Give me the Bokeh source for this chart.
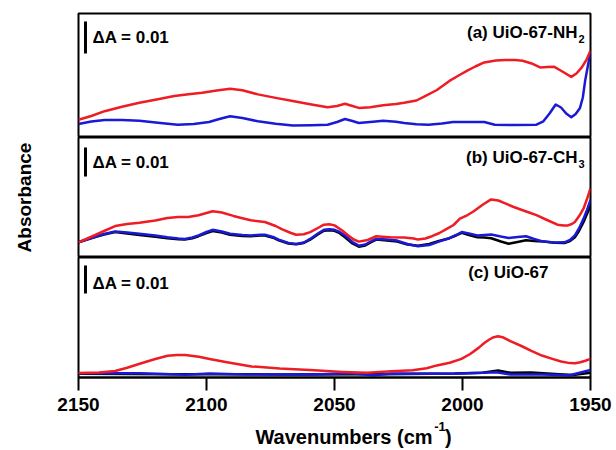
import math
from bokeh.plotting import figure
from bokeh.layouts import column
from bokeh.models import Range1d, Label, FixedTicker
from bokeh.embed import file_html
from bokeh.resources import INLINE

FONT = "Liberation Sans"
RED = "#ee1c24"
BLUE = "#1a1ad6"
BLACK = "#000000"

# ------------- data: wavenumber (cm-1) and absorbance in milli-absorbance (10^-3) -------------
x_ticks = [2150, 2100, 2050, 2000, 1950]
scale_bar_mabs = 10.0   # the "ΔA = 0.01" bar

# (a) UiO-67-NH2
a_red_wn = [2150, 2145, 2139.8, 2133, 2126.2, 2119, 2112.6, 2107, 2101.7, 2096, 2090.8, 2086, 2079.9, 2073,
            2066.3, 2059, 2052.7, 2049, 2045.9, 2043, 2040.5, 2036, 2031, 2026, 2022.8, 2018, 2014.6, 2010,
            2005.1, 2001.5, 1998.3, 1995, 1991.5, 1987, 1983.3, 1979.5, 1976.5, 1973, 1969.7, 1967, 1964.3,
            1961, 1957.5, 1955.5, 1953.4, 1951.5, 1950]
a_red_mabs = [5.56, 6.72, 8.22, 9.63, 10.84, 11.97, 12.94, 13.5, 14.0, 14.69, 15.25, 14.75, 13.47, 12.38,
              11.38, 10.31, 9.47, 9.84, 10.53, 9.84, 9.25, 9.44, 10.09, 10.47, 10.84, 11.56, 12.94, 14.84,
              17.69, 19.38, 20.84, 22.19, 23.47, 24.06, 24.22, 24.19, 24.0, 23.13, 21.91, 22.06, 22.13,
              20.63, 18.94, 20.0, 21.91, 24.38, 27.16]
a_blue_wn = [2150, 2145, 2139.8, 2133, 2126.2, 2118, 2111.2, 2105, 2099, 2095, 2090.8, 2086, 2079.9, 2073,
             2066.3, 2059, 2052.7, 2049, 2045.9, 2043, 2040.5, 2035, 2031, 2026, 2022.8, 2018, 2013.3, 2008,
             2003.7, 1997, 1991.5, 1987.4, 1980, 1971.1, 1968.4, 1966, 1963.6, 1961.5, 1959.5, 1957.5,
             1955.8, 1954.1, 1953, 1952.1, 1951, 1950]
a_blue_mabs = [4.22, 5.0, 5.47, 5.5, 5.25, 4.53, 4.0, 4.25, 4.84, 5.78, 6.63, 6.09, 5.06, 4.31,
               3.78, 3.84, 4.0, 4.84, 5.78, 5.16, 4.53, 4.94, 5.25, 4.94, 4.53, 4.13, 4.0, 4.38,
               4.84, 4.84, 4.84, 4.0, 3.91, 4.0, 5.06, 7.5, 10.31, 9.38, 7.5, 6.31,
               7.34, 9.25, 12.5, 17.69, 22.5, 26.63]

# (b) UiO-67-CH3
b_red_wn = [2150, 2147, 2143.9, 2140, 2135.7, 2131, 2126.2, 2120, 2115.3, 2111, 2107.1, 2103.1, 2100, 2097.6,
            2094, 2089.5, 2086, 2082.7, 2077.2, 2073, 2070.4, 2067, 2065, 2062, 2059.5, 2056.5, 2054.1, 2052,
            2050, 2047, 2044.6, 2042.5, 2040.5, 2037, 2033.7, 2030, 2028.2, 2022.8, 2019, 2017.4, 2014.5,
            2011.9, 2009, 2006.5, 2003.5, 2001, 1998, 1995.6, 1992, 1988.8, 1986, 1983.3, 1980, 1976.5, 1974,
            1971.1, 1967, 1962.9, 1960.5, 1958.8, 1957.3, 1956.1, 1954.3, 1952.7, 1951.3, 1950]
b_red_mabs = [5.24, 6.38, 7.59, 9.14, 10.83, 11.55, 12.0, 12.76, 13.65, 13.96, 14.0, 14.59, 15.34, 15.96,
              15.52, 14.34, 13.55, 12.83, 12.24, 10.86, 9.69, 8.45, 7.83, 8.0, 8.76, 10.17, 11.31, 11.45,
              11.07, 9.31, 7.59, 6.21, 5.48, 6.03, 7.34, 7.1, 7.0, 6.9, 6.55, 6.17, 6.55,
              7.34, 8.45, 9.69, 11.21, 13.41, 14.65, 15.96, 18.27, 20.03, 19.65, 18.65, 17.41, 16.31, 15.52,
              14.59, 12.93, 11.31, 11.03, 11.07, 11.55, 12.24, 14.48, 16.9, 20.34, 23.89]
b_wn = [2150, 2147, 2143.9, 2140, 2135.7, 2131, 2126.2, 2120, 2115.3, 2111, 2108.5, 2105.5, 2103.1, 2100,
        2097.6, 2094, 2090.8, 2086, 2082.7, 2079, 2077.2, 2074, 2071.8, 2068, 2065, 2062, 2059.5, 2056.5,
        2054.1, 2052, 2050, 2048, 2045.9, 2043, 2040.5, 2038, 2035.5, 2033.7, 2029.5, 2025.5, 2021.5,
        2017.4, 2013, 2009.2, 2005.1, 2002.5, 2000.3, 1997.5, 1994.2, 1991.5, 1988.8, 1985, 1982, 1978.5,
        1975.2, 1972, 1968.4, 1964, 1960.2, 1958, 1956.1, 1954.5, 1952.7, 1951.3, 1950]
b_blue_mabs = [5.24, 6.14, 7.0, 8.1, 8.96, 8.62, 8.17, 7.59, 7.0, 6.55, 6.41, 6.9, 7.59, 8.79,
               9.55, 8.96, 8.17, 7.76, 7.59, 7.86, 7.83, 7.07, 6.17, 5.0, 4.65, 5.17, 6.41, 8.28,
               9.55, 9.76, 9.55, 8.79, 7.59, 5.34, 4.07, 4.48, 5.69, 6.41, 6.21, 5.83, 4.65,
               3.86, 4.31, 5.48, 6.65, 7.76, 8.76, 8.28, 7.59, 7.76, 7.93, 7.24, 6.76, 7.07,
               7.34, 6.38, 5.48, 5.17, 5.24, 6.03, 7.59, 10.0, 13.41, 16.55, 19.83]
b_black_mabs = [5.24, 6.14, 7.0, 7.93, 8.76, 8.28, 7.76, 7.17, 6.65, 6.28, 6.17, 6.65, 7.34, 8.45,
                9.1, 8.62, 7.83, 7.45, 7.34, 7.59, 7.59, 6.83, 5.93, 4.83, 4.55, 5.0, 6.17, 7.93,
                9.21, 9.41, 9.21, 8.38, 7.0, 4.83, 3.72, 4.14, 5.34, 6.17, 5.86, 5.48, 4.48,
                4.07, 4.65, 5.72, 6.65, 7.59, 8.52, 7.76, 7.0, 6.9, 6.65, 5.52, 4.76, 5.34,
                5.93, 5.69, 5.48, 5.1, 5.0, 5.69, 7.0, 9.14, 12.24, 15.17, 18.07]

# (c) UiO-67
c_red_wn = [2150, 2142, 2135.7, 2131, 2126.1, 2120, 2115.2, 2111.5, 2108.3, 2103, 2098.8, 2092, 2082.4,
            2071.4, 2057.8, 2046.9, 2037.3, 2027.7, 2019.5, 2014, 2010, 2005, 2000.4, 1997, 1993.6, 1991.5,
            1989.5, 1987.8, 1986.1, 1984, 1981.3, 1977, 1973.1, 1969, 1964.9, 1961.5, 1958.1, 1956, 1954,
            1952, 1950]
c_red_mabs = [1.6, 1.8, 2.3, 3.5, 4.89, 6.6, 7.78, 8.07, 8.03, 7.43, 6.64, 5.46, 3.96,
              3.18, 2.57, 2.0, 1.68, 2.25, 2.57, 3.32, 4.32, 5.28, 6.64, 8.39, 10.67, 12.32,
              13.57, 14.39, 14.74, 14.28, 13.0, 11.25, 9.53, 7.85, 6.64, 5.71, 5.14, 5.1, 5.46,
              6.0, 6.64]
c_blue_wn = [2150, 2126.1, 2108.3, 2098.8, 2085.1, 2057.8, 2044.1, 2034.6, 2027.7, 2003.1, 1986.7, 1981.3,
             1969.0, 1958.1, 1950]
c_blue_mabs = [1.5, 1.5, 1.0, 1.4, 1.1, 1.1, 1.5, 0.8, 1.4, 1.3, 1.9, 1.1, 1.1, 0.8, 2.7]
c_black_wn = [2150, 2112.4, 2071.4, 2030.5, 2003.1, 1992.2, 1986.1, 1981.3, 1973.1, 1962.2, 1956.8, 1950]
c_black_mabs = [1.3, 1.2, 1.1, 1.2, 1.4, 1.7, 2.5, 1.7, 1.8, 1.2, 0.9, 1.7]
# ----------------------------------------------------------------------------------------------

X0, X1 = 2150, 1950
LEFT, FW, RIGHT = 78, 512, 26
x_range = Range1d(X0, X1)


def wn_at(px):
    return X0 - (px - LEFT) * (X0 - X1) / FW


def make_panel(span, fh, top, bottom, xaxis, yaxis=False):
    p = figure(frame_width=FW, frame_height=fh, min_border_left=LEFT, min_border_right=RIGHT,
               min_border_top=top, min_border_bottom=bottom, x_range=x_range,
               y_range=Range1d(0, span), output_backend="svg", toolbar_location=None,
               x_axis_location="below" if xaxis else None,
               y_axis_location="left" if yaxis else None)
    p.grid.visible = False
    p.outline_line_color = "black"
    p.outline_line_width = 2
    p.background_fill_color = "white"
    p.border_fill_color = "white"
    return p


def yk(p, fh, h):
    return h * p.y_range.end / fh


# panel spans: frame height (px) times the ΔA per px of each panel's scale bar
pa = make_panel(124 * 10 / 32, 124, 13, 0, xaxis=False)
pb = make_panel(120 * 10 / 29, 120, 0, 0, xaxis=False, yaxis=True)
pc = make_panel(120 * 10 / 28, 120, 0, 42, xaxis=True)

LW = 2.5
pa.line(a_blue_wn, a_blue_mabs, color=BLUE, line_width=LW, line_join="round")
pa.line(a_red_wn, a_red_mabs, color=RED, line_width=LW, line_join="round")

pb.line(b_wn, b_black_mabs, color=BLACK, line_width=LW, line_join="round")
pb.line(b_wn, b_blue_mabs, color=BLUE, line_width=LW, line_join="round")
pb.line(b_red_wn, b_red_mabs, color=RED, line_width=LW, line_join="round")

pc.line(c_black_wn, c_black_mabs, color=BLACK, line_width=LW, line_join="round")
pc.line(c_blue_wn, c_blue_mabs, color=BLUE, line_width=LW, line_join="round")
pc.line(c_red_wn, c_red_mabs, color=RED, line_width=LW, line_join="round")

# scale bars and panel labels
bar_x = wn_at(85)
txt_x = wn_at(92)
info = [
    (pa, 124, 84, 100, "(a) UiO-67-NH", "2", 577, 105),
    (pb, 120, 81, 95, "(b) UiO-67-CH", "3", 577, 100),
    (pc, 120, 84, 94, "(c) UiO-67", None, 548, 105),
]
for p, fh, bar_h, txt_h, name, sub, name_px, name_h in info:
    y0 = yk(p, fh, bar_h)
    p.segment(x0=[bar_x], y0=[y0], x1=[bar_x], y1=[y0 + scale_bar_mabs], color="black", line_width=3)
    p.add_layout(Label(x=txt_x, y=yk(p, fh, txt_h), text="\u0394A = 0.01", text_font=FONT,
                       text_font_style="bold", text_font_size="17px", text_baseline="middle",
                       text_align="left", text_color="black"))
    p.add_layout(Label(x=wn_at(name_px), y=yk(p, fh, name_h), text=name, text_font=FONT,
                       text_font_style="bold", text_font_size="17px", text_baseline="middle",
                       text_align="right", text_color="black"))
    if sub:
        p.add_layout(Label(x=wn_at(name_px + 1), y=yk(p, fh, name_h - 6), text=sub, text_font=FONT,
                           text_font_style="bold", text_font_size="11px", text_baseline="middle",
                           text_align="left", text_color="black"))

# y axis label (no ticks) on the middle panel
yax = pb.yaxis[0]
yax.ticker = FixedTicker(ticks=[])
yax.axis_line_color = None
yax.major_tick_line_color = None
yax.minor_tick_line_color = None
yax.axis_label = "Absorbance"
yax.axis_label_text_font = FONT
yax.axis_label_text_font_style = "bold"
yax.axis_label_text_font_size = "19px"
yax.axis_label_text_color = "black"
yax.axis_label_standoff = 44

# x axis
ax = pc.xaxis[0]
ax.ticker = FixedTicker(ticks=x_ticks)
ax.minor_tick_line_color = None
ax.major_tick_in = 0
ax.major_tick_out = 13
ax.major_tick_line_width = 2
ax.axis_line_width = 2
ax.major_label_standoff = 7
ax.major_label_text_font = FONT
ax.major_label_text_font_style = "bold"
ax.major_label_text_font_size = "19px"
ax.major_label_text_color = "black"

# x axis title strip (pixel coordinates, y downward)
LH = 450 - (13 + 124 + 120 + 120 + 42)
pl = figure(width=616, height=LH, min_border=0, x_range=Range1d(0, 616), y_range=Range1d(LH, 0),
            output_backend="svg", toolbar_location=None, x_axis_location=None, y_axis_location=None)
pl.grid.visible = False
pl.outline_line_color = None
xl_y = LH - 14
pl.add_layout(Label(x=426, y=xl_y, text="Wavenumbers (cm", text_font=FONT, text_font_style="bold",
                    text_font_size="20px", text_align="right", text_baseline="middle", text_color="black"))
pl.add_layout(Label(x=428, y=2, text="-1", text_font=FONT, text_font_style="bold",
                    text_font_size="13px", text_align="left", text_baseline="top", text_color="black"))
pl.add_layout(Label(x=441, y=xl_y, text=")", text_font=FONT, text_font_style="bold",
                    text_font_size="20px", text_align="left", text_baseline="middle", text_color="black"))

layout = column(pa, pb, pc, pl, spacing=0)
open("out.html", "w").write(file_html(layout, INLINE))
